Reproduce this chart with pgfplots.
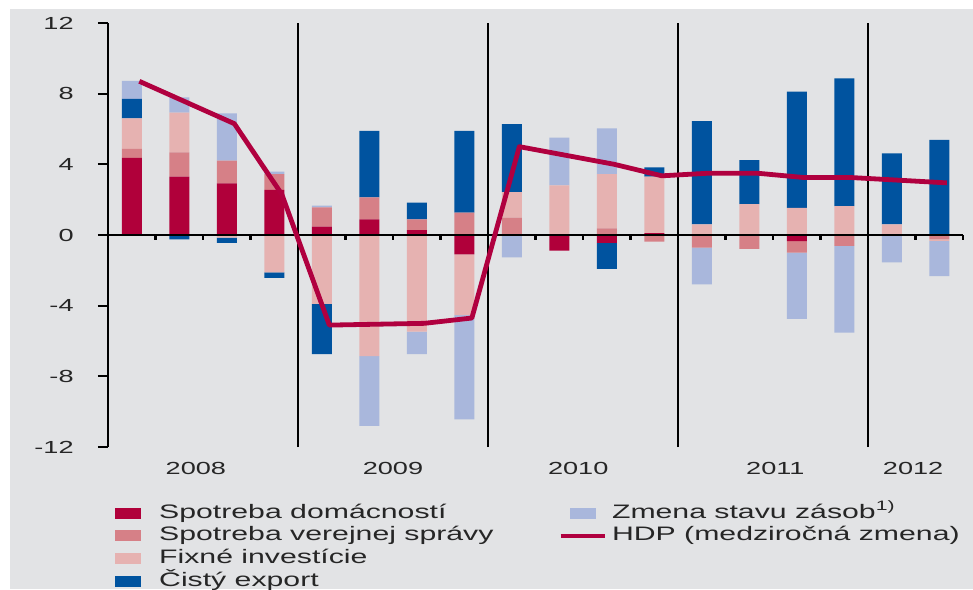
\documentclass[border=0pt]{standalone}
\usepackage{fontspec}
\setmainfont[FakeStretch=1.55]{Liberation Sans}
\usepackage{pgfplots}
\usepackage{pgfplotstable}
\pgfplotsset{compat=1.18}

\definecolor{cdom}{HTML}{B0003A}
\definecolor{cvs}{HTML}{D68087}
\definecolor{cinv}{HTML}{E6B2B1}
\definecolor{cexp}{HTML}{00539F}
\definecolor{czas}{HTML}{A9B7DC}
\definecolor{chdp}{HTML}{B0003F}
\definecolor{bg}{HTML}{E2E3E5}

% x: quarter index (2008Q1 = 0 ... 2012Q2 = 17)
\pgfplotstableread{
x  dom   vs    inv   exp   zas   hdp
0  4.36  0.51  1.73  1.10  1.02  8.70
1  3.30  1.38  2.24 -0.25  0.87  7.50
2  2.92  1.29 -0.15 -0.30  2.68  6.30
3  2.55  0.90 -2.11 -0.31  0.13  2.30
4  0.47  1.10 -3.90 -2.84  0.09 -5.10
5  0.89  1.24 -6.85  3.76 -3.96 -5.05
6  0.28  0.61 -5.47  0.94 -1.27 -5.00
7 -1.09  1.26 -3.44  4.63 -5.90 -4.70
8  0.00  0.98  1.44  3.86 -1.26  5.00
9 -0.89  0.05  2.76  0.00  2.70  4.50
10 -0.45 0.38  3.07 -1.47  2.59  4.00
11 0.10 -0.38  3.20  0.53  0.00  3.35
12 0.00 -0.72  0.60  5.85 -2.07  3.50
13 0.00 -0.79  1.75  2.49  0.00  3.50
14 -0.34 -0.66 1.53  6.58 -3.75  3.25
15 0.00 -0.62  1.64  7.23 -4.91  3.25
16 0.00  0.00  0.60  4.02 -1.55  3.10
17 0.00 -0.25 -0.08  5.39 -2.00  2.95
}\gdp

\pgfplotsset{
  base/.style={scale only axis, width=427.5pt, height=212pt,
    xmin=-0.5, xmax=17.5, ymin=-12, ymax=12, clip=false},
  sq legend/.style={legend image code/.code={\fill[#1] (0pt,-2.5pt) rectangle (12.5pt,2.5pt);}},
}

\begin{document}
\begin{tikzpicture}
\fill[white] (-54pt,-71pt) rectangle (432.5pt,223.5pt);
\useasboundingbox (-54pt,-71pt) rectangle (432.5pt,223.5pt);
\fill[bg] (-49pt,-71pt) rectangle (432.5pt,219pt);

% positive parts
\begin{axis}[base, hide axis, ybar stacked, bar width=10pt]
\addplot[fill=cdom, draw=none] table[x=x, y expr={max(\thisrow{dom},0)}]{\gdp};
\addplot[fill=cvs,  draw=none] table[x=x, y expr={max(\thisrow{vs},0)}]{\gdp};
\addplot[fill=cinv, draw=none] table[x=x, y expr={max(\thisrow{inv},0)}]{\gdp};
\addplot[fill=cexp, draw=none] table[x=x, y expr={max(\thisrow{exp},0)}]{\gdp};
\addplot[fill=czas, draw=none] table[x=x, y expr={max(\thisrow{zas},0)}]{\gdp};
\end{axis}

% negative parts
\begin{axis}[base, hide axis, ybar stacked, bar width=10pt]
\addplot[fill=cdom, draw=none] table[x=x, y expr={min(\thisrow{dom},0)}]{\gdp};
\addplot[fill=cvs,  draw=none] table[x=x, y expr={min(\thisrow{vs},0)}]{\gdp};
\addplot[fill=cinv, draw=none] table[x=x, y expr={min(\thisrow{inv},0)}]{\gdp};
\addplot[fill=cexp, draw=none] table[x=x, y expr={min(\thisrow{exp},0)}]{\gdp};
\addplot[fill=czas, draw=none] table[x=x, y expr={min(\thisrow{zas},0)}]{\gdp};
\end{axis}

% frame, line, legend
\begin{axis}[base,
  axis lines=left, axis line style={-, line width=1.25pt, black},
  x axis line style={draw=none},
  ytick={-12,-8,-4,0,4,8,12}, yticklabels={-12,-8,-4,0,4,8,12},
  tick align=outside, major tick length=5pt,
  ytick style={black, line width=1.1pt},
  yticklabel style={anchor=east, inner sep=0pt, xshift=-12pt,
    font=\fontsize{8.75}{10}\selectfont, text=black!85},
  xtick={1.35,5.5,9.4,13.55,16.45},
  xticklabels={2008,2009,2010,2011,2012},
  xtick style={draw=none},
  xticklabel style={anchor=center, inner sep=0pt, yshift=-5.5pt,
    font=\fontsize{8.75}{10}\selectfont, text=black!85},
  legend columns=2, legend cell align=left,
  legend style={at={(axis description cs:0,0)}, anchor=north west,
    xshift=3.5pt, yshift=-27.2pt, draw=none, fill=none, inner sep=0pt,
    font=\fontsize{9.75}{11}\selectfont, text=black!85,
    nodes={inner xsep=0pt, inner ysep=0.6pt, text height=7.6pt, text depth=2.5pt},
    row sep=0pt,
    /tikz/column 1/.style={column sep=9pt},
    /tikz/column 2/.style={column sep=32.5pt},
    /tikz/column 3/.style={column sep=2.75pt}},
]
\pgfplotsinvokeforeach{3.5,7.5,11.5,15.5}{
  \draw[black, line width=1.35pt] (axis cs:#1,-12) -- (axis cs:#1,12);
}
\draw[black, line width=1.1pt] (axis cs:-0.5,0) -- (axis cs:17.5,0);
\pgfplotsinvokeforeach{0.5,1.5,2.5,4.5,5.5,6.5,8.5,9.5,10.5,12.5,13.5,14.5,16.5,17.5}{
  \draw[black, line width=1.1pt] (axis cs:#1,0) -- ++(0pt,-2.6pt);
}
\addplot[chdp, line width=2.4pt, line join=round, mark=none, forget plot]
  table[x expr=\thisrow{x}+0.16, y=hdp]{\gdp};

\addlegendimage{sq legend=cdom}
\addlegendentry{Spotreba domácností}
\addlegendimage{sq legend=czas}
\addlegendentry{Zmena stavu zásob\textsuperscript{1)}}
\addlegendimage{sq legend=cvs}
\addlegendentry{Spotreba verejnej správy}
\addlegendimage{legend image code/.code={\draw[chdp, line width=2pt] (-4.75pt,0pt) -- (17.25pt,0pt);}}
\addlegendentry{HDP (medziročná zmena)}
\addlegendimage{sq legend=cinv}
\addlegendentry{Fixné investície}
\addlegendimage{empty legend}
\addlegendentry{}
\addlegendimage{sq legend=cexp}
\addlegendentry{Čistý export}
\addlegendimage{empty legend}
\addlegendentry{}
\end{axis}
\end{tikzpicture}
\end{document}
